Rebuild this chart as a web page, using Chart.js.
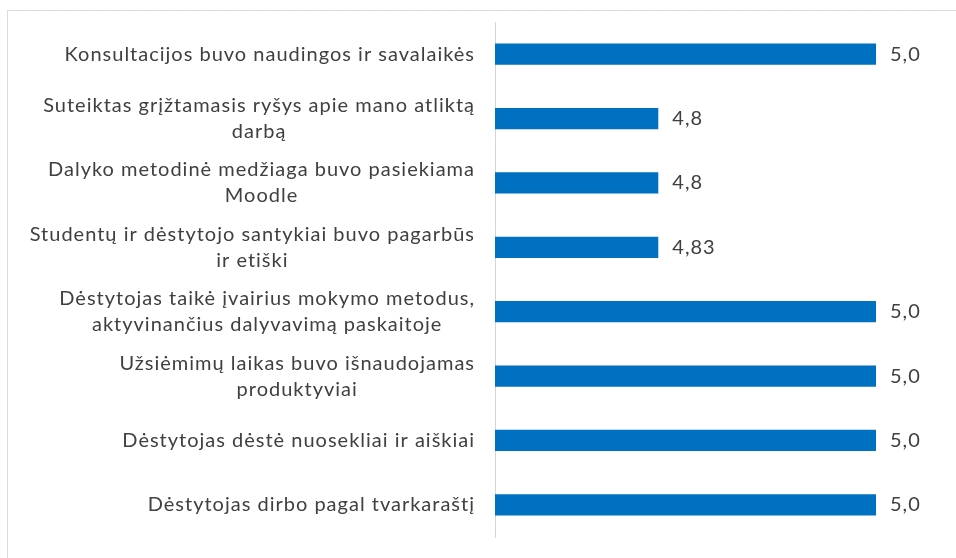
<!DOCTYPE html>
<html>
<head>
<meta charset="utf-8">
<script src="https://cdn.jsdelivr.net/npm/chart.js@4.4.1/dist/chart.umd.min.js"></script>
<style>
  html, body { margin: 0; padding: 0; background: #ffffff; }
  #wrap { position: relative; width: 956px; height: 558px; }
</style>
</head>
<body>
<div id="wrap"><canvas id="c" width="956" height="558"></canvas></div>
<script>
const categories = [
  ["Konsultacijos buvo naudingos ir savalaikės"],
  ["Suteiktas grįžtamasis ryšys apie mano atliktą", "darbą"],
  ["Dalyko metodinė medžiaga buvo pasiekiama", "Moodle"],
  ["Studentų ir dėstytojo santykiai buvo pagarbūs", "ir etiški"],
  ["Dėstytojas taikė įvairius mokymo metodus,", "aktyvinančius dalyvavimą paskaitoje"],
  ["Užsiėmimų laikas buvo išnaudojamas", "produktyviai"],
  ["Dėstytojas dėstė nuosekliai ir aiškiai"],
  ["Dėstytojas dirbo pagal tvarkaraštį"]
];
const values = [5.0, 4.8, 4.8, 4.8, 5.0, 5.0, 5.0, 5.0];
const valueLabels = ["5,0", "4,8", "4,8", "4,83", "5,0", "5,0", "5,0", "5,0"];
const axisMin = 4.65;
const axisMax = 5.0;

const FONT = '20px Lato';
const TEXT_COLOR = '#404040';

const frame = {
  id: 'frame',
  beforeDraw(chart) {
    const ctx = chart.ctx;
    ctx.save();
    ctx.strokeStyle = '#dddcd3';
    ctx.lineWidth = 1;
    ctx.strokeRect(7.5, 10.5, 1000, 600);
    ctx.restore();
  }
};

const labelsPlugin = {
  id: 'labelsPlugin',
  afterDraw(chart) {
    const ctx = chart.ctx;
    const ys = chart.scales.y;
    const meta = chart.getDatasetMeta(0);
    ctx.save();
    ctx.font = FONT;
    ctx.letterSpacing = '1px';
    ctx.fillStyle = TEXT_COLOR;
    ctx.textBaseline = 'middle';
    const lh = 26;
    const rightX = 475;
    categories.forEach((lines, i) => {
      const y = ys.getPixelForValue(i);
      let maxW = 0;
      lines.forEach(l => { maxW = Math.max(maxW, ctx.measureText(l).width); });
      const cx = rightX - maxW / 2;
      ctx.textAlign = 'center';
      lines.forEach((l, j) => {
        ctx.fillText(l, cx, y + (j - (lines.length - 1) / 2) * lh);
      });
      const bar = meta.data[i];
      ctx.textAlign = 'left';
      ctx.fillText(valueLabels[i], bar.x + 14, y);
    });
    ctx.restore();
  }
};

new Chart(document.getElementById('c'), {
  type: 'bar',
  data: {
    labels: categories,
    datasets: [{
      data: values,
      backgroundColor: '#0070c0',
      borderWidth: 0,
      categoryPercentage: 1.0,
      barPercentage: 0.33
    }]
  },
  options: {
    indexAxis: 'y',
    responsive: false,
    animation: false,
    layout: { padding: { top: 22, bottom: 21, left: 0, right: 80 } },
    plugins: { legend: { display: false }, tooltip: { enabled: false } },
    scales: {
      x: {
        display: false,
        min: axisMin,
        max: axisMax
      },
      y: {
        afterFit(scale) { scale.width = 495; },
        ticks: { display: false },
        grid: { display: false, drawTicks: false },
        border: { display: true, color: '#d4d4d4', width: 1 }
      }
    }
  },
  plugins: [frame, labelsPlugin]
});
</script>
</body>
</html>
